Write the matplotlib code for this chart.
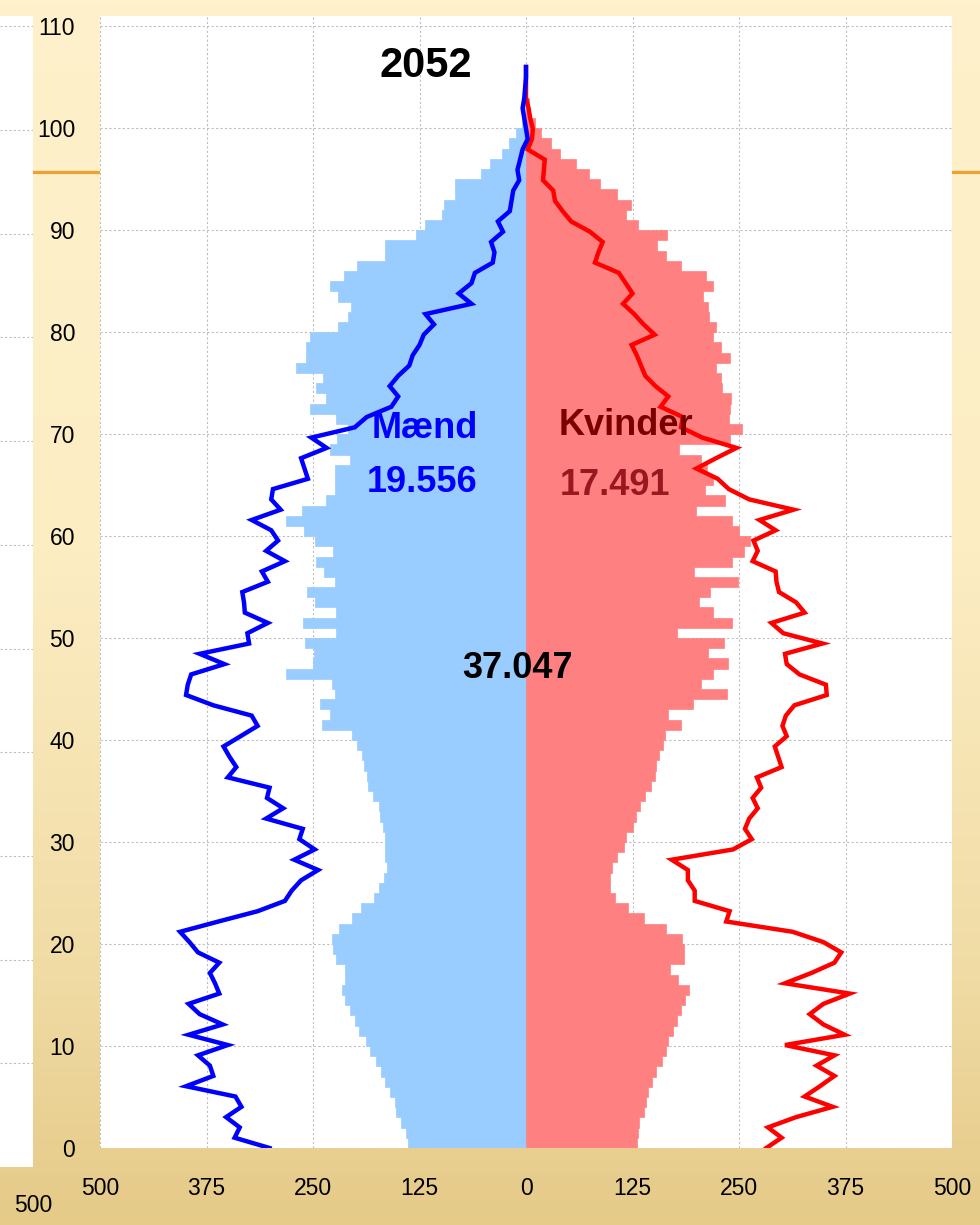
import numpy as np
import matplotlib.pyplot as plt
from matplotlib.colors import LinearSegmentedColormap

plt.rcParams['font.family'] = ['Liberation Sans', 'DejaVu Sans']

# ---------------- data ----------------
ages = list(range(106))

men = [138, 141, 147, 152, 154, 160, 165, 170, 176, 183,
       188, 196, 201, 206, 212, 216, 213, 213, 223, 226,
       228, 220, 204, 194, 178, 173, 167, 163, 165, 165,
       165, 168, 171, 173, 180, 185, 187, 190, 193, 198,
       204, 239, 230, 242, 224, 228, 282, 250, 249, 259,
       223, 262, 223, 248, 257, 224, 237, 246, 226, 248,
       261, 282, 263, 235, 224, 224, 224, 207, 230, 222,
       209, 223, 254, 235, 246, 238, 270, 258, 258, 254,
       221, 209, 205, 221, 230, 214, 198, 165, 165, 129,
       119, 99, 96, 83, 83, 53, 42, 28, 20, 12,
       5, 2, 1, 1, 0, 0]

women = [130, 131, 133, 138, 141, 143, 148, 153, 160, 164,
         167, 173, 177, 182, 187, 191, 178, 169, 185, 186,
         183, 164, 139, 120, 105, 99, 99, 101, 107, 115,
         117, 125, 129, 134, 140, 147, 151, 152, 156, 161,
         163, 182, 167, 196, 236, 205, 219, 237, 214, 232,
         177, 242, 220, 203, 216, 249, 197, 242, 256, 263,
         250, 242, 199, 234, 210, 219, 212, 205, 180, 240,
         254, 238, 239, 241, 230, 229, 223, 240, 229, 219,
         223, 215, 214, 208, 220, 211, 182, 164, 154, 165,
         132, 117, 123, 107, 87, 74, 59, 40, 29, 18,
         11, 5, 3, 1, 1, 0]

men_line = [-301, -342, -336, -352, -334, -341, -399, -367, -371, -385,
            -350, -396, -356, -383, -396, -360, -365, -371, -360, -385,
            -395, -406, -361, -315, -283, -275, -264, -244, -272, -248,
            -266, -262, -305, -285, -304, -301, -350, -340, -348, -355,
            -335, -315, -322, -367, -399, -397, -393, -354, -383, -325,
            -327, -303, -330, -331, -333, -303, -310, -283, -305, -291,
            -299, -322, -288, -299, -297, -256, -260, -264, -234, -252,
            -201, -187, -158, -150, -160, -150, -137, -133, -125, -120,
            -108, -118, -64, -79, -64, -60, -39, -37, -41, -27,
            -33, -19, -17, -15, -8, -10, -7, -4, 2, 0,
            -2, -4, -2, -1, 0, 0]

women_line = [282, 300, 284, 317, 360, 327, 345, 362, 341, 362,
              304, 374, 349, 333, 349, 380, 304, 335, 362, 370,
              349, 313, 235, 239, 198, 198, 190, 190, 171, 243,
              265, 257, 262, 272, 266, 276, 271, 300, 296, 292,
              306, 301, 305, 315, 353, 352, 321, 306, 304, 348,
              302, 288, 327, 317, 297, 294, 293, 266, 272, 267,
              293, 274, 314, 262, 238, 225, 200, 223, 247, 207,
              182, 184, 158, 167, 152, 140, 135, 130, 124, 151,
              138, 127, 114, 125, 117, 109, 81, 85, 90, 75,
              53, 43, 34, 32, 20, 21, 22, 2, 7, 8,
              5, 3, 0, 0, 0, 0]

xticks = [-500, -375, -250, -125, 0, 125, 250, 375, 500]
xtick_labels = ['500', '375', '250', '125', '0', '125', '250', '375', '500']
yticks = list(range(0, 111, 10))

# ---------------- figure + slide background ----------------
fig = plt.figure(figsize=(9.8, 12.25), dpi=100)

bg = fig.add_axes([0, 0, 1, 1], zorder=0)
cmap = LinearSegmentedColormap.from_list(
    'slide', [(0.0, '#FEF1CB'), (0.45, '#FCEDC3'), (0.8, '#F0DBA4'), (1.0, '#E5CA88')])
bg.imshow(np.linspace(0, 1, 256).reshape(-1, 1), cmap=cmap, aspect='auto',
          extent=[0, 1, 0, 1])
bg.plot([0, 1], [1 - 172 / 1225] * 2, color='#F0A030', lw=2.3)
bg.set_xlim(0, 1)
bg.set_ylim(0, 1)
bg.axis('off')

# chart lying behind (only a thin strip of it shows)
back = fig.add_axes([0, 58 / 1225, 33 / 980, 1151 / 1225], zorder=1)
back.set_facecolor('white')
back.set_ylim(0, 111)
back.set_yticks(yticks)
back.set_xticks([])
back.tick_params(left=False, labelleft=False)
back.grid(axis='y', color='#BFBFBF', linestyle=(0, (2, 2)), lw=0.8)
for s in back.spines.values():
    s.set_visible(False)
fig.text(33 / 980, 1 - 1205 / 1225, '500', ha='center', va='center', fontsize=16.5)

# ---------------- the pyramid ----------------
ax = fig.add_axes([100 / 980, 77 / 1225, 852 / 980, 1132 / 1225], zorder=2)
ax.set_facecolor('white')

ax.barh(ages, [-v for v in men], height=1, align='edge', color='#99CCFF',
        edgecolor='#99CCFF', lw=0.5, zorder=2)
ax.barh(ages, women, height=1, align='edge', color='#FF8080',
        edgecolor='#FF8080', lw=0.5, zorder=2)

line_y = np.linspace(0, 106, len(men_line))
ax.plot(women_line, line_y, color='#FF0000', lw=3.2, zorder=3, solid_joinstyle='miter')
ax.plot(men_line, line_y, color='#0000FF', lw=3.2, zorder=4, solid_joinstyle='miter')

ax.set_xlim(-500, 500)
ax.set_ylim(0, 111)
ax.set_xticks(xticks)
ax.set_xticklabels(xtick_labels)
ax.set_yticks(yticks)
ax.tick_params(axis='both', length=0, labelsize=16.5)
ax.tick_params(axis='y', pad=18)
ax.tick_params(axis='x', pad=21)
ax.grid(True, color='#BFBFBF', linestyle=(0, (2, 2)), lw=0.8, zorder=0)
ax.set_axisbelow(True)
for s in ax.spines.values():
    s.set_visible(False)

ax.text(-118, 105.0, '2052', ha='center', va='baseline', fontsize=30,
        fontweight='bold', color='black', zorder=5)
ax.text(-118.5, 69.6, 'Mænd', ha='center', va='baseline', fontsize=26,
        fontweight='bold', color='#0000FF', zorder=5)
ax.text(-122, 64.3, '19.556', ha='center', va='baseline', fontsize=26,
        fontweight='bold', color='#0000FF', zorder=5)
ax.text(117, 69.9, 'Kvinder', ha='center', va='baseline', fontsize=26,
        fontweight='bold', color='#7A0000', zorder=5)
ax.text(104, 64.0, '17.491', ha='center', va='baseline', fontsize=26,
        fontweight='bold', color='#9B1720', zorder=5)
ax.text(-10, 46.1, '37.047', ha='center', va='baseline', fontsize=26,
        fontweight='bold', color='black', zorder=5)

fig.savefig('out.png', dpi=100)
